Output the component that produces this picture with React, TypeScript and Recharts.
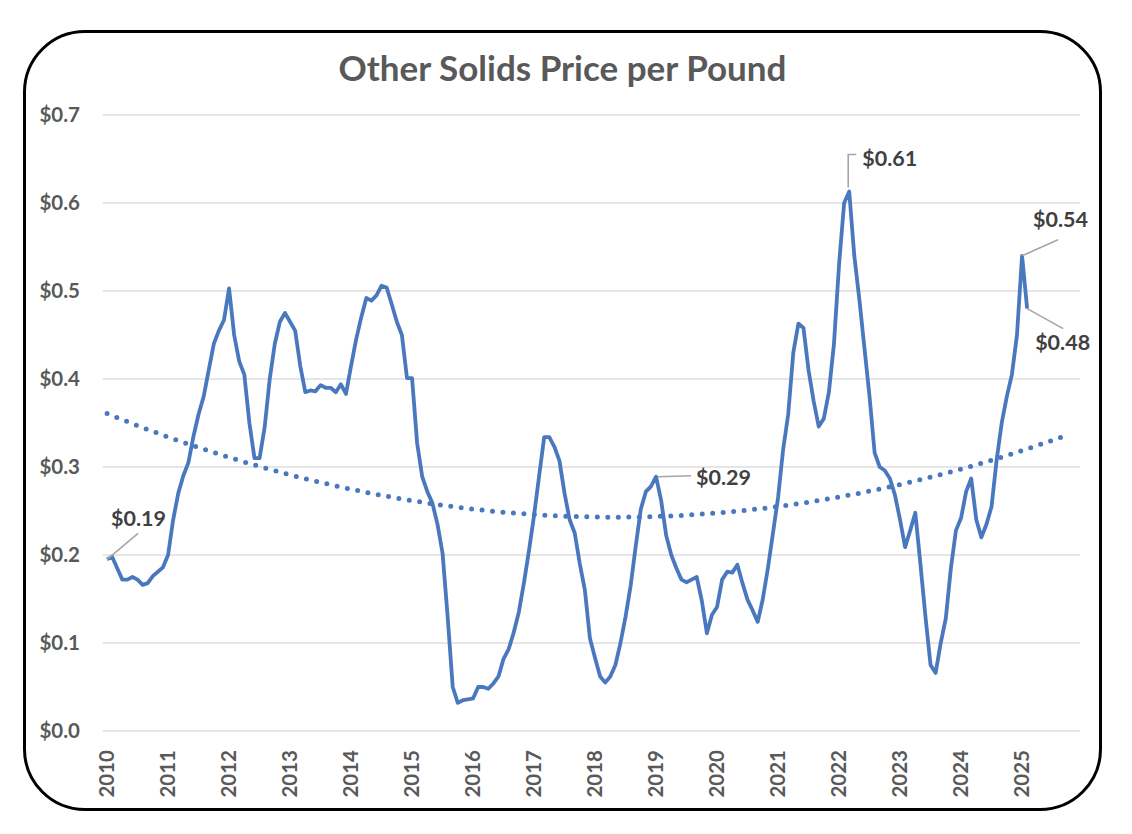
import { LineChart, Line, XAxis, YAxis, CartesianGrid, ReferenceDot } from "recharts";

// monthly price per pound, Jan..Dec of each year
const p2010 = [0.195, 0.198, 0.185, 0.172, 0.172, 0.175, 0.172, 0.166, 0.168, 0.176, 0.181, 0.186];
const p2011 = [0.2, 0.24, 0.27, 0.29, 0.305, 0.335, 0.36, 0.38, 0.41, 0.44, 0.455, 0.467];
const p2012 = [0.503, 0.45, 0.42, 0.405, 0.35, 0.31, 0.31, 0.345, 0.4, 0.44, 0.465, 0.475];
const p2013 = [0.465, 0.455, 0.415, 0.385, 0.387, 0.386, 0.393, 0.39, 0.39, 0.385, 0.394, 0.383];
const p2014 = [0.415, 0.445, 0.47, 0.492, 0.489, 0.495, 0.506, 0.504, 0.485, 0.465, 0.45, 0.401];
const p2015 = [0.401, 0.327, 0.289, 0.272, 0.259, 0.235, 0.202, 0.13, 0.05, 0.032, 0.035, 0.036];
const p2016 = [0.037, 0.05, 0.05, 0.048, 0.054, 0.062, 0.082, 0.093, 0.112, 0.135, 0.168, 0.205];
const p2017 = [0.245, 0.29, 0.334, 0.334, 0.323, 0.307, 0.27, 0.24, 0.225, 0.19, 0.16, 0.105];
const p2018 = [0.083, 0.062, 0.055, 0.062, 0.075, 0.1, 0.13, 0.165, 0.21, 0.252, 0.272, 0.278];
const p2019 = [0.289, 0.262, 0.222, 0.2, 0.185, 0.172, 0.169, 0.172, 0.175, 0.148, 0.111, 0.132];
const p2020 = [0.141, 0.172, 0.181, 0.18, 0.189, 0.168, 0.149, 0.137, 0.124, 0.15, 0.185, 0.225];
const p2021 = [0.265, 0.32, 0.36, 0.43, 0.463, 0.458, 0.41, 0.375, 0.346, 0.355, 0.385, 0.44];
const p2022 = [0.53, 0.6, 0.613, 0.54, 0.49, 0.435, 0.38, 0.316, 0.3, 0.296, 0.287, 0.268];
const p2023 = [0.24, 0.209, 0.228, 0.248, 0.19, 0.13, 0.075, 0.066, 0.1, 0.128, 0.185, 0.228];
const p2024 = [0.242, 0.272, 0.287, 0.24, 0.22, 0.235, 0.255, 0.308, 0.35, 0.38, 0.405, 0.45];
const p2025 = [0.54, 0.48];

const years = ["2010", "2011", "2012", "2013", "2014", "2015", "2016", "2017", "2018", "2019", "2020", "2021", "2022", "2023", "2024", "2025"];
const yTicks = [0, 0.1, 0.2, 0.3, 0.4, 0.5, 0.6, 0.7];

// callouts: month index, text
const callouts = [
  { i: 0, text: "$0.19", kind: "upRight" },
  { i: 108, text: "$0.29", kind: "right" },
  { i: 146, text: "$0.61", kind: "top" },
  { i: 180, text: "$0.54", kind: "upRight2" },
  { i: 181, text: "$0.48", kind: "downRight" },
];

const prices = [
  ...p2010, ...p2011, ...p2012, ...p2013, ...p2014, ...p2015, ...p2016, ...p2017,
  ...p2018, ...p2019, ...p2020, ...p2021, ...p2022, ...p2023, ...p2024, ...p2025,
];

// 2nd order polynomial trendline (least squares), like Excel's
function quadFit(ys: number[]) {
  let s = [0, 0, 0, 0, 0];
  let t = [0, 0, 0];
  ys.forEach((y, x) => {
    let p = 1;
    for (let k = 0; k < 5; k++) {
      s[k] += p;
      if (k < 3) t[k] += p * y;
      p *= x;
    }
  });
  const m = [
    [s[0], s[1], s[2], t[0]],
    [s[1], s[2], s[3], t[1]],
    [s[2], s[3], s[4], t[2]],
  ];
  for (let c = 0; c < 3; c++) {
    for (let r = c + 1; r < 3; r++) {
      const f = m[r][c] / m[c][c];
      for (let k = c; k < 4; k++) m[r][k] -= f * m[c][k];
    }
  }
  const coef = [0, 0, 0];
  for (let r = 2; r >= 0; r--) {
    let v = m[r][3];
    for (let k = r + 1; k < 3; k++) v -= m[r][k] * coef[k];
    coef[r] = v / m[r][r];
  }
  return (x: number) => coef[0] + coef[1] * x + coef[2] * x * x;
}

const trendFn = quadFit(prices);
const TREND_END = 189;

const rows = Array.from({ length: TREND_END + 1 }, (_, i) => ({
  i,
  price: i < prices.length ? prices[i] : null,
  trend: trendFn(i),
}));

const yearTicks = years.map((_, k) => k * 12);

const GREY = "#595959";
const BLUE = "#4a78bf";

const YTick = ({ y, payload }: any) => (
  <text x={80} y={y} dy="0.35em" textAnchor="end" fill={GREY} fontSize={20.5} fontWeight={700} fontFamily="Lato">
    {`$${Number(payload.value).toFixed(1)}`}
  </text>
);

const XTick = ({ x, payload }: any) => (
  <g transform={`translate(${x},750) rotate(-90)`}>
    <text textAnchor="end" dy="0.36em" fill={GREY} fontSize={20.5} fontWeight={700} fontFamily="Lato">
      {years[Math.round(payload.value / 12)]}
    </text>
  </g>
);

const Callout = ({ cx, cy, text, kind }: any) => {
  const lead = "#a6a6a6";
  const txt = { fill: "#404040", fontSize: 21.5, fontWeight: 700, fontFamily: "Lato" } as const;
  if (kind === "upRight")
    return (
      <g>
        <line x1={cx} y1={cy} x2={cx + 31} y2={cy - 26} stroke={lead} strokeWidth={1.6} />
        <text x={cx + 4} y={cy - 41} dy="0.35em" {...txt}>{text}</text>
      </g>
    );
  if (kind === "right")
    return (
      <g>
        <line x1={cx + 2} y1={cy} x2={cx + 35} y2={cy - 1} stroke={lead} strokeWidth={1.6} />
        <text x={cx + 40} y={cy + 1} dy="0.35em" {...txt}>{text}</text>
      </g>
    );
  if (kind === "top")
    return (
      <g>
        <polyline points={`${cx - 1},${cy - 4} ${cx - 1},${cy - 37} ${cx + 7},${cy - 37}`} fill="none" stroke={lead} strokeWidth={1.6} />
        <text x={cx + 13} y={cy - 33} dy="0.35em" {...txt}>{text}</text>
      </g>
    );
  if (kind === "upRight2")
    return (
      <g>
        <line x1={cx} y1={cy} x2={cx + 36} y2={cy - 16} stroke={lead} strokeWidth={1.6} />
        <text x={cx + 11} y={cy - 36} dy="0.35em" {...txt}>{text}</text>
      </g>
    );
  return (
    <g>
      <line x1={cx} y1={cy} x2={cx + 36} y2={cy + 20} stroke={lead} strokeWidth={1.6} />
      <text x={cx + 8} y={cy + 34} dy="0.35em" {...txt}>{text}</text>
    </g>
  );
};

export default function App() {
  return (
    <div style={{ position: "absolute", left: 0, top: 0, width: 1132, height: 834, background: "#fff", fontFamily: "Lato, sans-serif" }}>
      <div
        style={{
          position: "absolute",
          left: 23,
          top: 30,
          width: 1079,
          height: 781,
          border: "3px solid #000",
          borderRadius: 62,
          boxSizing: "border-box",
        }}
      />
      <div
        style={{
          position: "absolute",
          left: 23,
          top: 47,
          width: 1079,
          textAlign: "center",
          fontSize: 35,
          lineHeight: "40px",
          fontWeight: 700,
          color: GREY,
        }}
      >
        Other Solids Price per Pound
      </div>
      <div style={{ position: "absolute", left: 0, top: 0 }}>
        <LineChart width={1132} height={834} data={rows} margin={{ top: 115, right: 52, bottom: 0, left: 0 }}>
          <CartesianGrid vertical={false} stroke="#dedede" strokeWidth={1.4} />
          <XAxis
            dataKey="i"
            type="number"
            domain={[-0.8, 191.4]}
            ticks={yearTicks}
            allowDataOverflow
            axisLine={false}
            tickLine={false}
            height={103}
            interval={0}
            tick={<XTick />}
          />
          <YAxis
            domain={[0, 0.7]}
            ticks={yTicks}
            width={103}
            axisLine={false}
            tickLine={false}
            interval={0}
            tick={<YTick />}
          />
          <Line
            dataKey="trend"
            type="linear"
            stroke={BLUE}
            strokeWidth={5}
            strokeDasharray="0 10.5"
            strokeLinecap="round"
            dot={false}
            activeDot={false}
            isAnimationActive={false}
          />
          <Line
            dataKey="price"
            type="linear"
            stroke={BLUE}
            strokeWidth={3.8}
            strokeLinejoin="round"
            dot={false}
            activeDot={false}
            isAnimationActive={false}
          />
          {callouts.map((c) => (
            <ReferenceDot
              key={c.text}
              x={c.i}
              y={prices[c.i]}
              r={2}
              ifOverflow="visible"
              shape={(p: any) => <Callout cx={p.cx} cy={p.cy} text={c.text} kind={c.kind} />}
            />
          ))}
        </LineChart>
      </div>
    </div>
  );
}
